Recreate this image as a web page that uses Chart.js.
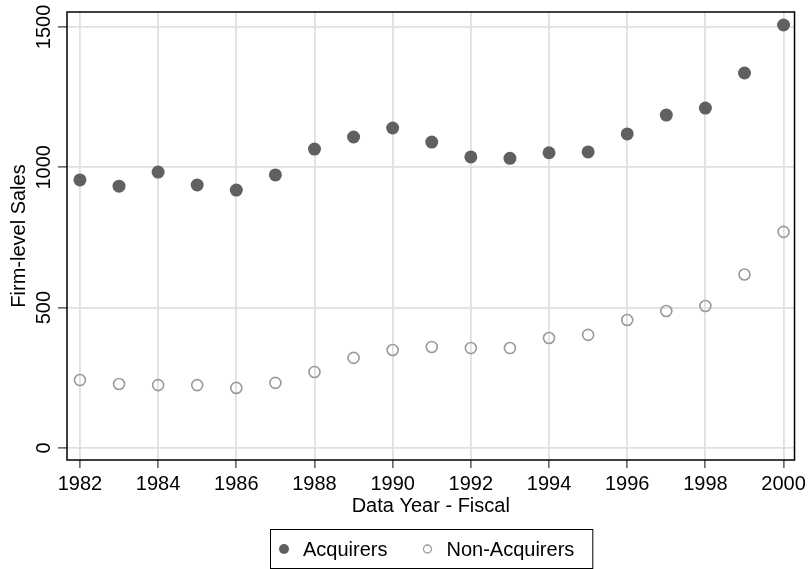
<!DOCTYPE html>
<html lang="en">
<head>
    <meta charset="UTF-8">
    <title>Firm-level Sales: Acquirers vs Non-Acquirers</title>
    <script src="https://cdn.jsdelivr.net/npm/chart.js"></script>
    <style>
        html, body { margin: 0; padding: 0; background: #fff; }
        #wrap { width: 810px; height: 569px; position: relative; }
    </style>
</head>
<body>
    <div id="wrap"><canvas id="salesChart"></canvas></div>

    <script>
        // data
        const years = [1982, 1983, 1984, 1985, 1986, 1987, 1988, 1989, 1990, 1991,
                       1992, 1993, 1994, 1995, 1996, 1997, 1998, 1999, 2000];
        const acquirers = [955, 933, 983, 937, 919, 973, 1065, 1108, 1140, 1090,
                           1037, 1032, 1052, 1055, 1119, 1186, 1211, 1336, 1507];
        const nonAcquirers = [242, 228, 224, 224, 214, 232, 271, 321, 349, 360,
                              356, 356, 392, 403, 456, 488, 506, 618, 770];
        const xTicks = [1982, 1984, 1986, 1988, 1990, 1992, 1994, 1996, 1998, 2000];
        const yTicks = [0, 500, 1000, 1500];

        const FONT = "'Liberation Sans', Arial, Helvetica, sans-serif";

        const toPoints = vals => vals.map((v, i) => ({ x: years[i], y: v }));

        // frame around plot region + rotated y tick labels (Stata style)
        const frameAndLabels = {
            id: "frameAndLabels",
            afterDraw(chart) {
                const ctx = chart.ctx;
                const a = chart.chartArea;
                ctx.save();
                ctx.strokeStyle = "#000";
                ctx.lineWidth = 1.5;
                ctx.strokeRect(a.left, a.top, a.right - a.left, a.bottom - a.top);

                const ys = chart.scales.y;
                ctx.fillStyle = "#000";
                ctx.font = "20px " + FONT;
                ctx.textAlign = "center";
                ctx.textBaseline = "middle";
                ys.ticks.forEach(t => {
                    const py = ys.getPixelForValue(t.value);
                    ctx.save();
                    ctx.translate(43, py);
                    ctx.rotate(-Math.PI / 2);
                    ctx.fillText(String(t.value), 0, 1);
                    ctx.restore();
                });
                ctx.restore();
            }
        };

        // boxed legend under the x axis
        const boxLegend = {
            id: "boxLegend",
            afterDraw(chart) {
                const ctx = chart.ctx;
                const a = chart.chartArea;
                ctx.save();
                ctx.font = "20px " + FONT;
                const padL = 9, padR = 18, marker = 10, gap = 14, itemGap = 35;
                const sets = chart.data.datasets;
                let total = padL + padR;
                sets.forEach((ds, i) => {
                    total += marker + gap + ctx.measureText(ds.label).width;
                    if (i < sets.length - 1) total += itemGap;
                });
                const boxTop = 529, boxH = 39;
                const left = Math.round((a.left + a.right) / 2 - total / 2);
                ctx.strokeStyle = "#000";
                ctx.lineWidth = 1;
                ctx.strokeRect(left + 0.5, boxTop + 0.5, total, boxH);

                const cy = boxTop + boxH / 2 + 0.5;
                let x = left + padL;
                ctx.textBaseline = "middle";
                ctx.textAlign = "left";
                sets.forEach(ds => {
                    ctx.beginPath();
                    if (ds.legendFilled) {
                        ctx.arc(x + marker / 2, cy, 5, 0, Math.PI * 2);
                        ctx.fillStyle = ds.backgroundColor;
                        ctx.fill();
                    } else {
                        ctx.arc(x + marker / 2, cy, 4, 0, Math.PI * 2);
                        ctx.strokeStyle = ds.borderColor;
                        ctx.lineWidth = 1.3;
                        ctx.stroke();
                    }
                    x += marker + gap;
                    ctx.fillStyle = "#000";
                    ctx.fillText(ds.label, x, cy + 1);
                    x += ctx.measureText(ds.label).width + itemGap;
                });
                ctx.restore();
            }
        };

        new Chart(document.getElementById("salesChart"), {
            type: "scatter",
            data: {
                datasets: [
                    {
                        label: "Acquirers",
                        data: toPoints(acquirers),
                        backgroundColor: "#606060",
                        borderColor: "#606060",
                        borderWidth: 0,
                        pointRadius: 6.5,
                        legendFilled: true
                    },
                    {
                        label: "Non-Acquirers",
                        data: toPoints(nonAcquirers),
                        backgroundColor: "rgba(0,0,0,0)",
                        borderColor: "#9a9a9a",
                        borderWidth: 1.6,
                        pointRadius: 5.5,
                        legendFilled: false
                    }
                ]
            },
            options: {
                responsive: true,
                maintainAspectRatio: false,
                animation: false,
                layout: { padding: { top: 12, right: 12, left: 0, bottom: 51 } },
                plugins: {
                    legend: { display: false },
                    tooltip: { enabled: false }
                },
                scales: {
                    x: {
                        type: "linear",
                        min: 1981.669,
                        max: 2000.28,
                        afterBuildTicks: s => { s.ticks = xTicks.map(v => ({ value: v })); },
                        afterFit: s => { s.height = 58; },
                        grid: {
                            color: "#e0e0e0",
                            lineWidth: 1.8,
                            tickColor: "#333",
                            tickLength: 8,
                            tickWidth: 1.2
                        },
                        border: { display: false },
                        ticks: {
                            color: "#000",
                            font: { family: FONT, size: 20 },
                            padding: 4,
                            maxRotation: 0,
                            callback: v => String(v)
                        },
                        title: {
                            display: true,
                            text: "Data Year - Fiscal",
                            color: "#000",
                            font: { family: FONT, size: 20 },
                            padding: { top: 0, bottom: 0 }
                        }
                    },
                    y: {
                        type: "linear",
                        min: -42.8,
                        max: 1553.4,
                        afterBuildTicks: s => { s.ticks = yTicks.map(v => ({ value: v })); },
                        afterFit: s => { s.width = 67; },
                        grid: {
                            color: "#e0e0e0",
                            lineWidth: 1.8,
                            tickColor: "#333",
                            tickLength: 9,
                            tickWidth: 1.2
                        },
                        border: { display: false },
                        ticks: { display: false },
                        title: {
                            display: true,
                            text: "Firm-level Sales",
                            color: "#000",
                            font: { family: FONT, size: 20 },
                            padding: { top: 7, bottom: 0 }
                        }
                    }
                }
            },
            plugins: [frameAndLabels, boxLegend]
        });
    </script>
</body>
</html>
